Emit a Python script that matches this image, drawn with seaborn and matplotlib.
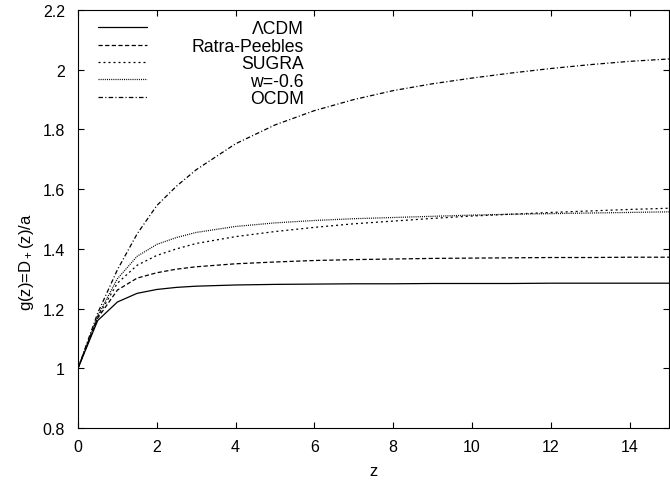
import matplotlib
matplotlib.use("Agg")
import matplotlib.pyplot as plt
import pandas as pd
import seaborn as sns
from matplotlib.ticker import FuncFormatter
from matplotlib.transforms import IdentityTransform

# Growth factor g(z) = D+(z)/a for several dark-energy models
z = [0, 0.5, 1, 1.5, 2, 2.5, 3, 4, 5, 6, 7, 8, 9, 10, 11, 12, 13, 14, 15]

g_lcdm = [1.000, 1.160, 1.222, 1.251, 1.264, 1.271, 1.275, 1.279, 1.281, 1.282,
          1.283, 1.283, 1.284, 1.284, 1.284, 1.285, 1.285, 1.285, 1.285]
g_ratra_peebles = [1.000, 1.168, 1.262, 1.302, 1.320, 1.332, 1.340, 1.350, 1.356, 1.361,
                   1.364, 1.366, 1.368, 1.369, 1.370, 1.371, 1.371, 1.372, 1.372]
g_sugra = [1.000, 1.172, 1.285, 1.345, 1.378, 1.400, 1.418, 1.441, 1.458, 1.472,
           1.484, 1.493, 1.502, 1.510, 1.516, 1.522, 1.527, 1.532, 1.536]
g_w06 = [1.000, 1.176, 1.300, 1.375, 1.415, 1.438, 1.455, 1.475, 1.487, 1.495,
         1.501, 1.505, 1.509, 1.513, 1.516, 1.518, 1.520, 1.522, 1.524]
g_ocdm = [1.000, 1.185, 1.330, 1.450, 1.545, 1.610, 1.665, 1.752, 1.815, 1.863,
          1.900, 1.930, 1.953, 1.972, 1.989, 2.004, 2.017, 2.028, 2.036]

models = ["ΛCDM", "Ratra-Peebles", "SUGRA", "w=-0.6", "OCDM"]
series = [g_lcdm, g_ratra_peebles, g_sugra, g_w06, g_ocdm]

x_ticks = [0, 2, 4, 6, 8, 10, 12, 14]
y_ticks = [0.8, 1.0, 1.2, 1.4, 1.6, 1.8, 2.0, 2.2]

df = pd.concat(
    [pd.DataFrame({"z": z, "g": vals, "model": name}) for name, vals in zip(models, series)],
    ignore_index=True,
)

sns.set_theme(style="ticks")
plt.rcParams["font.family"] = ["Liberation Sans", "DejaVu Sans"]
plt.rcParams["mathtext.default"] = "regular"

fig = plt.figure(figsize=(6.7, 4.81), dpi=100)
ax = fig.add_axes([78 / 670, 1 - 429 / 481, (669 - 78) / 670, (429 - 11) / 481])

line_dashes = {
    "ΛCDM": "",
    "Ratra-Peebles": (3.4, 1.9),
    "SUGRA": (1.6, 2.4),
    "w=-0.6": (0.8, 0.9),
    "OCDM": (3.6, 1.8, 0.9, 1.8),
}

sns.lineplot(
    data=df, x="z", y="g", hue="model", style="model",
    hue_order=models, style_order=models,
    palette=["black"] * len(models), dashes=line_dashes,
    linewidth=0.9, errorbar=None, legend=False, ax=ax,
)

ax.set_xlim(0, 15)
ax.set_ylim(0.8, 2.2)
ax.set_xticks(x_ticks)
ax.set_yticks(y_ticks)
ax.xaxis.set_major_formatter(FuncFormatter(lambda v, p: f"{v:g}"))
ax.yaxis.set_major_formatter(FuncFormatter(lambda v, p: f"{v:g}"))
ax.tick_params(direction="in", top=True, right=True, length=4.5, width=0.8,
               color="black", labelcolor="black", labelsize=11.5)
ax.tick_params(axis="x", pad=8)
ax.tick_params(axis="y", pad=9.5)
for sp in ax.spines.values():
    sp.set_color("black")
    sp.set_linewidth(0.8)

ax.set_xlabel("z", fontsize=12, color="black", labelpad=6.5)
ax.set_ylabel(r"g(z)=D$_+$(z)/a", fontsize=12, color="black")
ax.yaxis.set_label_coords(-0.071, 0.40)

# key: line samples on the left, names right-aligned in one column
key_size = 12.7
leg = ax.legend(
    handles=ax.lines[: len(models)], labels=models,
    loc="upper left", bbox_to_anchor=(20 / 591, 1 - 10.5 / 418),
    frameon=False, fontsize=key_size, handlelength=2.75, handletextpad=1.0,
    labelspacing=0.02, borderpad=0, borderaxespad=0,
)
fig.canvas.draw()
renderer = fig.canvas.get_renderer()
right_px = 304
for t, name in zip(leg.get_texts(), models):
    bb = t.get_window_extent(renderer)
    t.set_visible(False)
    fig.text(right_px, bb.y0, name, transform=IdentityTransform(),
             ha="right", va="bottom", fontsize=key_size, color="black")

fig.savefig("out.png", dpi=100)
